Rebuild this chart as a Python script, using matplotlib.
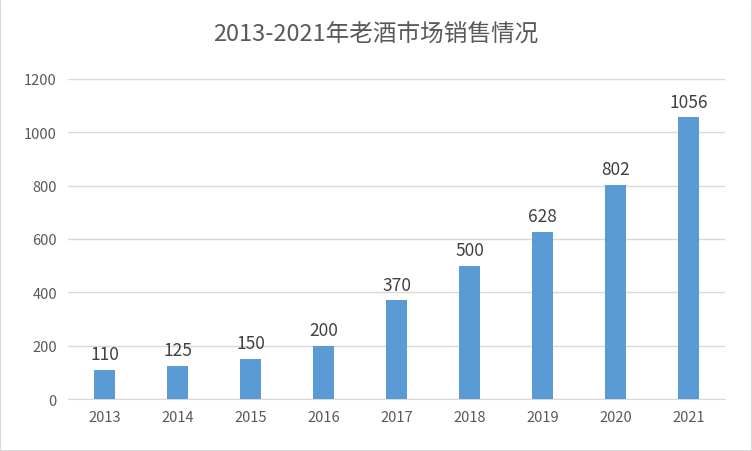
import matplotlib
matplotlib.use("Agg")
import matplotlib.pyplot as plt
from matplotlib import font_manager as fm
from matplotlib.patches import Rectangle

years = ["2013","2014","2015","2016","2017","2018","2019","2020","2021"]
sales = [110,125,150,200,370,500,628,802,1056]
yticks = [0,200,400,600,800,1000,1200]

cjk = [f for f in fm.fontManager.ttflist if "CJK" in f.name]
cjk_name = None
for pref in ["Noto Sans CJK SC", "Noto Sans CJK JP", "Noto Sans CJK TC", "Noto Sans CJK KR"]:
    if any(f.name == pref for f in cjk):
        cjk_name = pref
        break
if cjk_name is None and cjk:
    cjk_name = cjk[0].name
families = ([cjk_name] if cjk_name else []) + ["DejaVu Sans"]
plt.rcParams["font.family"] = families

fig = plt.figure(figsize=(7.52,4.52), dpi=100)
ax = fig.add_axes([68/752, 1-400/452, (725-68)/752, 320/452])
x = range(len(years))
ax.bar(x, sales, width=0.3, color="#5B9BD5", zorder=3)
for i, v in zip(x, sales):
    ax.text(i, v+25, str(v), ha="center", va="bottom", fontsize=12.5, color="#404040")
ax.set_xlim(-0.5, len(years)-0.5)
ax.set_ylim(0, 1200)
ax.set_yticks(yticks)
ax.set_xticks(list(x))
ax.set_xticklabels(years)
ax.grid(axis="y", color="#D9D9D9", linewidth=1, zorder=0)
for s in ["top","right","left"]:
    ax.spines[s].set_visible(False)
ax.spines["bottom"].set_color("#D9D9D9")
ax.tick_params(length=0, labelsize=10.5, colors="#595959", pad=8)
fig.text(0.5, 1-35/452, "2013-2021年老酒市场销售情况", ha="center", va="center", fontsize=17, color="#595959")
fig.patches.append(Rectangle((0,0),1,1, transform=fig.transFigure, fill=False, edgecolor="#D9D9D9", linewidth=1.5))
fig.savefig("out.png", dpi=100)
